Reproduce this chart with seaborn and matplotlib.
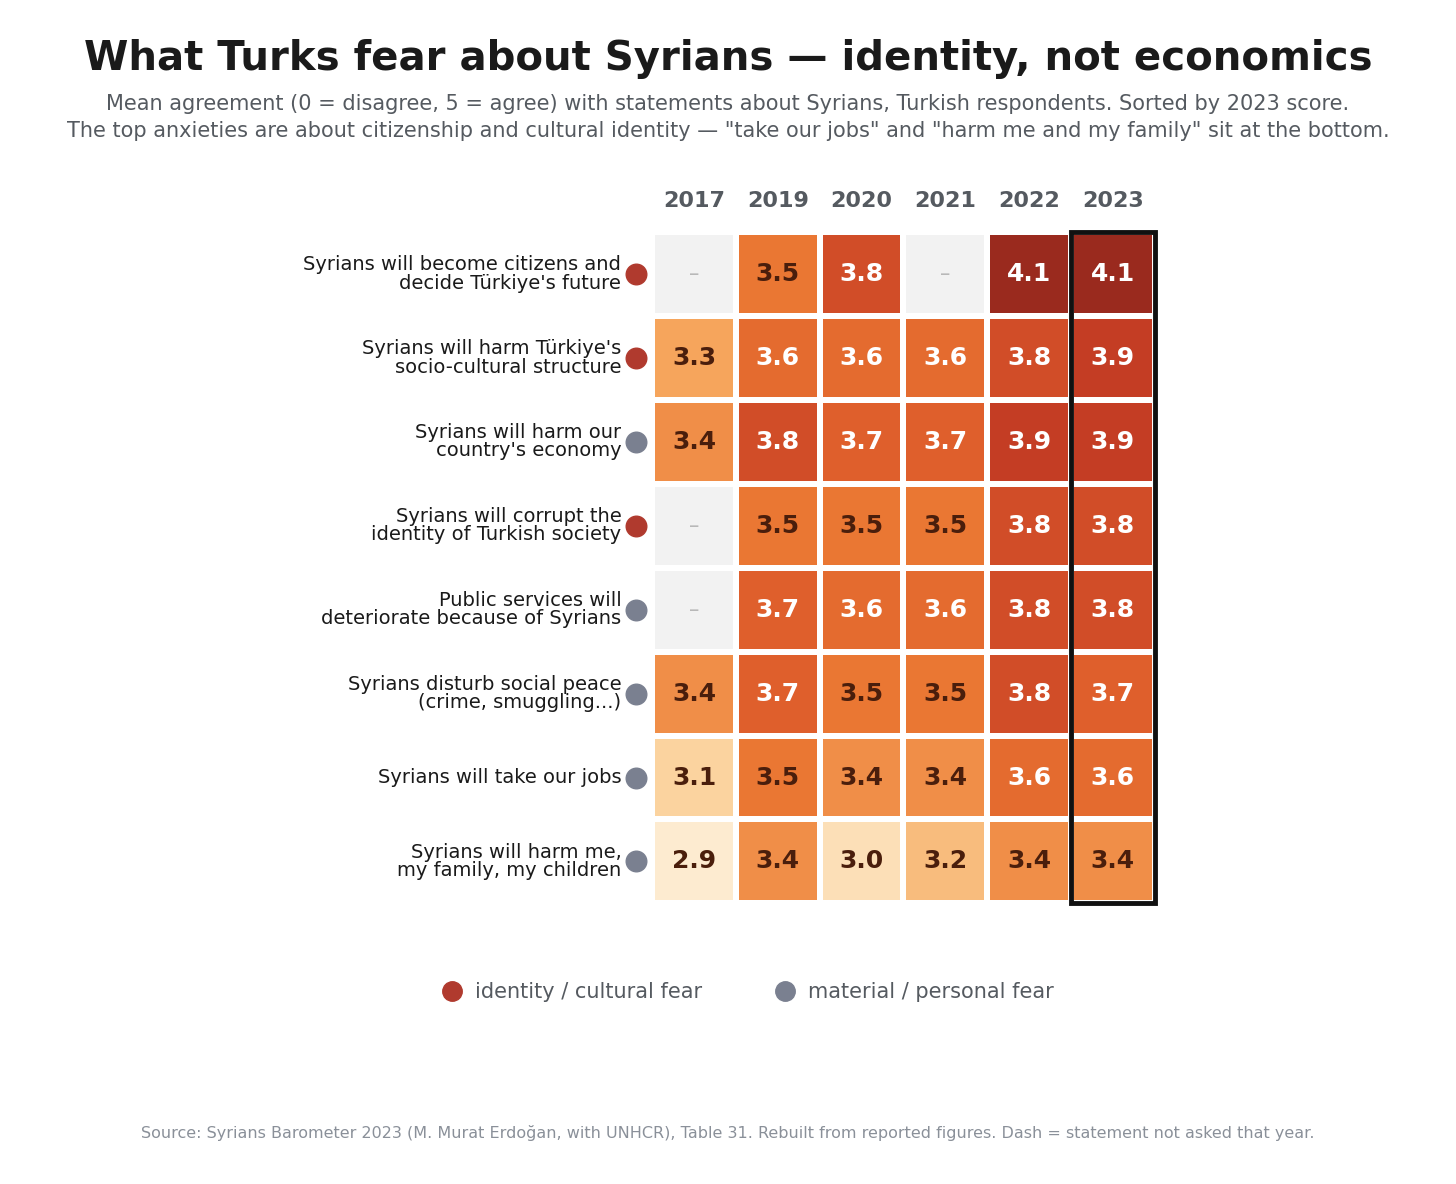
import numpy as np
import pandas as pd
import matplotlib
matplotlib.use("Agg")
import matplotlib.pyplot as plt
import seaborn as sns
from matplotlib.colors import LinearSegmentedColormap, ListedColormap
from matplotlib.patches import Rectangle
from matplotlib.lines import Line2D

years = ["2017", "2019", "2020", "2021", "2022", "2023"]
statements = [
    "Syrians will become citizens and\ndecide Türkiye's future",
    "Syrians will harm Türkiye's\nsocio-cultural structure",
    "Syrians will harm our\ncountry's economy",
    "Syrians will corrupt the\nidentity of Turkish society",
    "Public services will\ndeteriorate because of Syrians",
    "Syrians disturb social peace\n(crime, smuggling...)",
    "Syrians will take our jobs",
    "Syrians will harm me,\nmy family, my children",
]
kind = ["identity", "identity", "material", "identity", "material", "material", "material", "material"]
scores = [
    [np.nan, 3.5, 3.8, np.nan, 4.1, 4.1],
    [3.3, 3.6, 3.6, 3.6, 3.8, 3.9],
    [3.4, 3.8, 3.7, 3.7, 3.9, 3.9],
    [np.nan, 3.5, 3.5, 3.5, 3.8, 3.8],
    [np.nan, 3.7, 3.6, 3.6, 3.8, 3.8],
    [3.4, 3.7, 3.5, 3.5, 3.8, 3.7],
    [3.1, 3.5, 3.4, 3.4, 3.6, 3.6],
    [2.9, 3.4, 3.0, 3.2, 3.4, 3.4],
]

df = pd.DataFrame(scores, index=statements, columns=years)
missing = df.isna()
kind_color = {"identity": "#b03a2e", "material": "#7a8090"}

cmap = LinearSegmentedColormap.from_list(
    "fear", ["#fdebd0", "#fbd39e", "#f6a55c", "#ea7733", "#df5f2c", "#c43d24", "#9a2a1e"])

fig = plt.figure(figsize=(14.56, 11.84), dpi=100)
ax = fig.add_axes([0.448, 0.237, 0.345, 0.567])

sns.heatmap(missing.astype(float), mask=~missing, cmap=ListedColormap(["#f2f2f2"]),
            cbar=False, linewidths=3, linecolor="white", ax=ax)
sns.heatmap(df, mask=missing, cmap=cmap, vmin=2.9, vmax=4.1, cbar=False,
            linewidths=3, linecolor="white", ax=ax)

for i in range(len(statements)):
    for j in range(len(years)):
        v = df.iloc[i, j]
        if np.isnan(v):
            ax.text(j + 0.5, i + 0.5, "–", ha="center", va="center", color="#b8b8b8", fontsize=15)
        else:
            c = "white" if v >= 3.6 else "#4a1e0c"
            ax.text(j + 0.5, i + 0.5, f"{v:.1f}", ha="center", va="center",
                    color=c, fontsize=18, fontweight="bold")

ax.set_xticks([])
ax.set_yticks([])
ax.set_xlabel("")
ax.set_ylabel("")
for j, y in enumerate(years):
    ax.text(j + 0.5, -0.25, y, ha="center", va="bottom", fontsize=16,
            fontweight="bold", color="#555a60")
for i, s in enumerate(statements):
    ax.text(-0.37, i + 0.5, s, ha="right", va="center", fontsize=14,
            color="#1a1a1a", linespacing=0.95)
    ax.scatter(-0.2, i + 0.5, s=220, color=kind_color[kind[i]], clip_on=False, zorder=5)

ax.add_patch(Rectangle((5, 0), 1, len(statements), fill=False, edgecolor="#111111",
                       lw=3.5, clip_on=False, zorder=6))

handles = [Line2D([], [], marker="o", ls="", markersize=14, color=kind_color["identity"]),
           Line2D([], [], marker="o", ls="", markersize=14, color=kind_color["material"])]
fig.legend(handles, ["identity / cultural fear", "material / personal fear"],
           loc="center", bbox_to_anchor=(0.51, 0.162), ncol=2, frameon=False,
           fontsize=15, labelcolor="#555a60", handletextpad=0.1, columnspacing=3)

fig.text(0.5, 0.95, "What Turks fear about Syrians — identity, not economics",
         ha="center", va="center", fontsize=29, fontweight="bold", color="#1a1a1a")
fig.text(0.5, 0.912, "Mean agreement (0 = disagree, 5 = agree) with statements about Syrians, "
         "Turkish respondents. Sorted by 2023 score.",
         ha="center", va="center", fontsize=15, color="#555a60")
fig.text(0.5, 0.889, "The top anxieties are about citizenship and cultural identity — "
         "\"take our jobs\" and \"harm me and my family\" sit at the bottom.",
         ha="center", va="center", fontsize=15, color="#555a60")
fig.text(0.5, 0.043, "Source: Syrians Barometer 2023 (M. Murat Erdoğan, with UNHCR), Table 31. "
         "Rebuilt from reported figures. Dash = statement not asked that year.",
         ha="center", va="center", fontsize=11.5, color="#8a9099")

fig.savefig("out.png", dpi=100, facecolor="white")
